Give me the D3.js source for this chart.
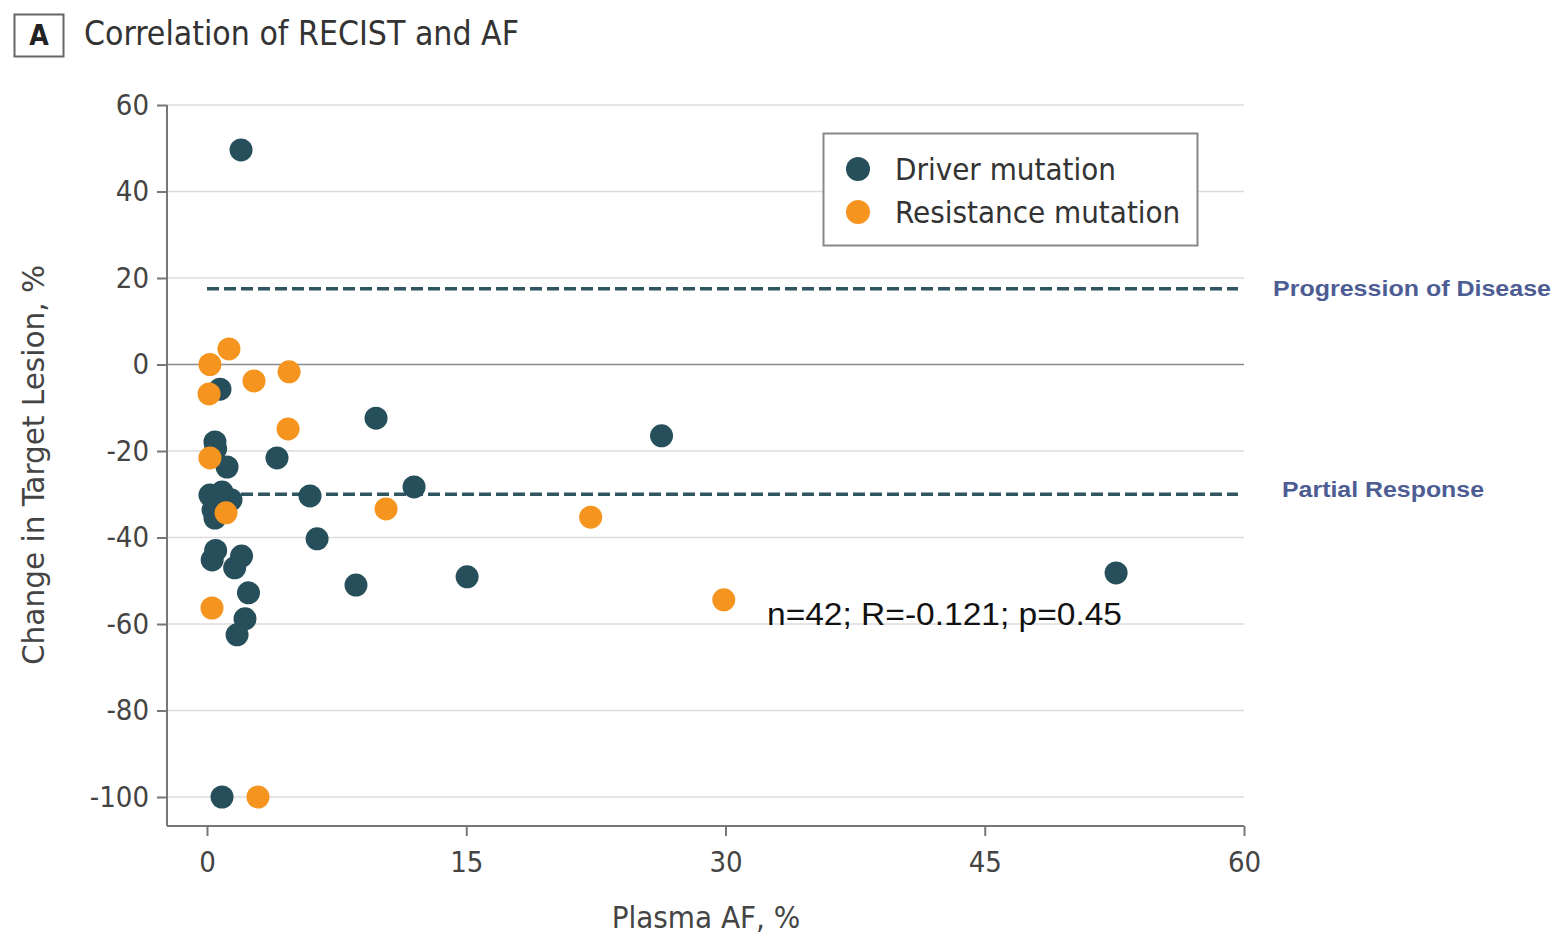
<!DOCTYPE html>
<html>
<head>
<meta charset="utf-8">
<script src="https://cdn.jsdelivr.net/npm/d3@7"></script>
<style>
  body { margin: 0; background: #fff; }
</style>
</head>
<body>
<div id="chart"></div>
<script>
// Driver mutation points [AF %, change %]
const driver_af = [1.97, 0.75, 9.78, 26.3, 4.05, 0.46, 0.5, 1.16, 5.96, 11.98, 6.37, 8.62, 15.05, 52.6,
  0.17, 0.87, 1.39, 0.35, 0.46, 0.3, 0.5, 1.6, 2.0, 2.4, 2.2, 1.74, 0.87, 0.6, 1.0];
const driver_change = [49.6, -5.7, -12.4, -16.5, -21.6, -17.9, -19.5, -23.7, -30.4, -28.3, -40.3, -51, -49.1, -48.2,
  -30.2, -29.5, -31.3, -33.6, -35.5, -45.2, -43, -47, -44.3, -52.8, -58.8, -62.5, -100, -32, -30.8];
// Resistance mutation points
const resist_af = [1.27, 0.17, 2.72, 4.75, 0.12, 4.69, 0.17, 1.1, 10.36, 22.2, 29.9, 0.29, 2.95];
const resist_change = [3.6, 0, -3.8, -1.7, -6.8, -14.9, -21.6, -34.3, -33.4, -35.3, -54.4, -56.3, -100];

const x_ticks = [0, 15, 30, 45, 60];
const y_ticks = [60, 40, 20, 0, -20, -40, -60, -80, -100];
const thresholds = [
  { value: 17.5, label: "Progression of Disease", lx: 1273, w: 278, dy: 7 },
  { value: -30, label: "Partial Response", lx: 1282, w: 202, dy: 3 }
];
const series = [
  { name: "Driver mutation", color: "#264f5b", af: driver_af, change: driver_change },
  { name: "Resistance mutation", color: "#f5951f", af: resist_af, change: resist_change }
];

const COND = "'Liberation Sans Narrow', 'DejaVu Sans Condensed', 'Open Sans', sans-serif";
const HELV = "'Liberation Sans', Arial, Helvetica, sans-serif";

const W = 1560, H = 939;
const svg = d3.select("#chart").append("svg").attr("width", W).attr("height", H)
    .style("font-family", COND);

const x = d3.scaleLinear().domain([0, 60]).range([207, 1244]);
const y = d3.scaleLinear().domain([60, -100]).range([105, 797]);
const x_left = 167, y_bottom = 826;

// panel label + title
svg.append("rect").attr("x", 14.5).attr("y", 14.5).attr("width", 49).attr("height", 42)
    .attr("fill", "none").attr("stroke", "#666").attr("stroke-width", 2);
svg.append("text").attr("x", 39).attr("y", 45).attr("text-anchor", "middle")
    .attr("font-size", 28).attr("font-weight", "bold").attr("fill", "#222").text("A");
svg.append("text").attr("x", 84).attr("y", 45).attr("font-size", 33).attr("fill", "#333")
    .attr("textLength", 435).attr("lengthAdjust", "spacingAndGlyphs")
    .text("Correlation of RECIST and AF");

// gridlines
svg.append("g").selectAll("line").data(y_ticks).join("line")
    .attr("x1", x_left).attr("x2", 1244)
    .attr("y1", d => y(d)).attr("y2", d => y(d))
    .attr("stroke", d => d === 0 ? "#8a8a8a" : "#dcdcdc")
    .attr("stroke-width", 1.5);

// y axis
const yAxis = d3.axisLeft(y).tickValues(y_ticks).tickSize(10).tickPadding(8);
const gy = svg.append("g").attr("transform", `translate(${x_left},0)`).call(yAxis);
gy.attr("font-family", null);
gy.select(".domain").attr("d", `M-0,105V${y_bottom}`).attr("stroke", "#777").attr("stroke-width", 2);
gy.selectAll(".tick line").attr("stroke", "#777").attr("stroke-width", 2);
gy.selectAll(".tick text").attr("font-size", 29).attr("fill", "#444")
    .text(d => d < 0 ? "-" + Math.abs(d) : d);

// x axis
const xAxis = d3.axisBottom(x).tickValues(x_ticks).tickSize(10).tickPadding(15);
const gx = svg.append("g").attr("transform", `translate(0,${y_bottom})`).call(xAxis);
gx.attr("font-family", null);
gx.select(".domain").attr("d", `M${x_left},0H1244`).attr("stroke", "#777").attr("stroke-width", 2);
gx.selectAll(".tick line").attr("stroke", "#777").attr("stroke-width", 2);
gx.selectAll(".tick text").attr("font-size", 29).attr("fill", "#444");

// axis titles
svg.append("text").attr("x", 706).attr("y", 928).attr("text-anchor", "middle")
    .attr("font-size", 31).attr("fill", "#444").text("Plasma AF, %");
svg.append("text").attr("transform", "translate(44,465) rotate(-90)").attr("text-anchor", "middle")
    .attr("font-size", 31).attr("fill", "#444")
    .attr("textLength", 400).attr("lengthAdjust", "spacingAndGlyphs")
    .text("Change in Target Lesion, %");

// threshold dashed lines
svg.append("g").selectAll("line").data(thresholds).join("line")
    .attr("x1", x(0)).attr("x2", 1238)
    .attr("y1", d => y(d.value)).attr("y2", d => y(d.value))
    .attr("stroke", "#2f5560").attr("stroke-width", 3.5).attr("stroke-dasharray", "12,5");
svg.append("g").selectAll("text").data(thresholds).join("text")
    .attr("x", d => d.lx).attr("y", d => y(d.value) + d.dy)
    .style("font-family", HELV)
    .attr("font-weight", "bold").attr("font-size", 22).attr("fill", "#4d5d93")
    .attr("textLength", d => d.w).attr("lengthAdjust", "spacingAndGlyphs")
    .text(d => d.label);

// points
series.forEach(s => {
  svg.append("g").selectAll("circle").data(s.af.map((a, i) => [a, s.change[i]])).join("circle")
      .attr("cx", d => x(d[0])).attr("cy", d => y(d[1])).attr("r", 11.5)
      .attr("fill", s.color);
});

// legend
const lg = svg.append("g");
lg.append("rect").attr("x", 823.5).attr("y", 133.5).attr("width", 374).attr("height", 112)
    .attr("fill", "#fff").attr("stroke", "#888").attr("stroke-width", 2);
series.forEach((s, i) => {
  lg.append("circle").attr("cx", 858).attr("cy", 169 + i * 43).attr("r", 12).attr("fill", s.color);
  lg.append("text").attr("x", 895).attr("y", 180 + i * 43).attr("font-size", 31).attr("fill", "#333")
      .text(s.name);
});

// stats annotation
svg.append("text").attr("x", 767).attr("y", 625)
    .style("font-family", HELV)
    .attr("font-size", 31).attr("fill", "#111")
    .attr("textLength", 355).attr("lengthAdjust", "spacingAndGlyphs")
    .text("n=42; R=-0.121; p=0.45");
</script>
</body>
</html>
